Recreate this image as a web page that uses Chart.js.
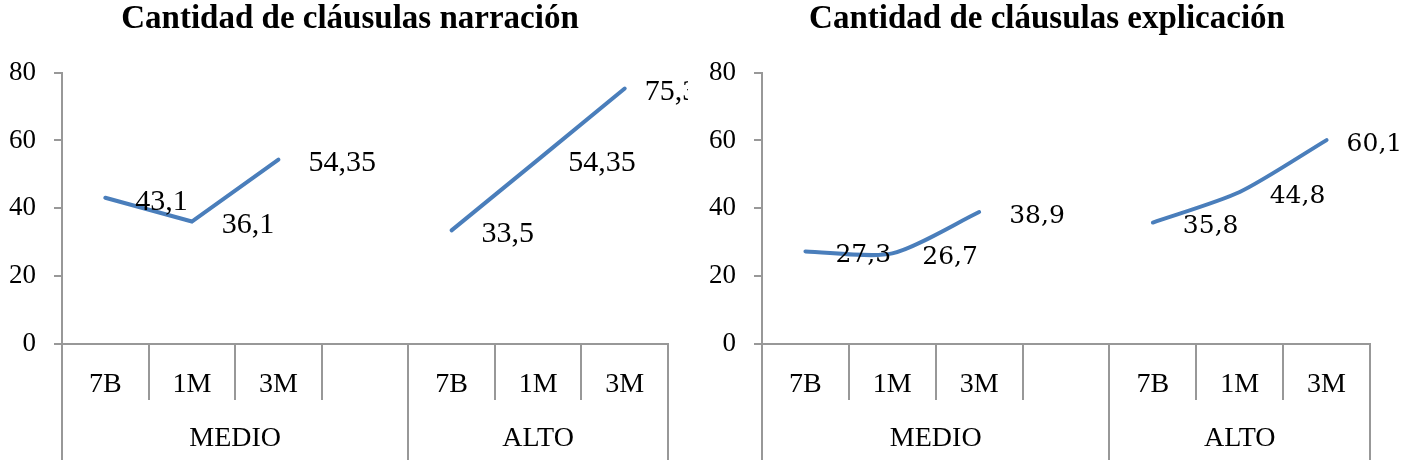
<!DOCTYPE html>
<html>
<head>
<meta charset="utf-8">
<script src="https://cdn.jsdelivr.net/npm/chart.js@4.4.0/dist/chart.umd.min.js"></script>
<style>
  html, body { margin: 0; padding: 0; background: #ffffff; }
  body { width: 1408px; height: 460px; position: relative; overflow: hidden; }
  .box { position: absolute; top: 0; height: 460px; }
  #boxA { left: 0; width: 700px; }
  #boxB { left: 700px; width: 708px; }
</style>
</head>
<body>
<div class="box" id="boxA"><canvas id="chartA" width="700" height="460"></canvas></div>
<div class="box" id="boxB"><canvas id="chartB" width="708" height="460"></canvas></div>
<script>
// ---- data ----
const categories = ['7B', '1M', '3M', '', '7B', '1M', '3M'];
const groups = ['MEDIO', 'ALTO'];
const groupSizes = [4, 3];
const narracion = [43.1, 36.1, 54.35, null, 33.5, 54.35, 75.3];
const explicacion = [27.3, 26.7, 38.9, null, 35.8, 44.8, 60.1];
const titleNarracion = 'Cantidad de cláusulas narración';
const titleExplicacion = 'Cantidad de cláusulas explicación';
const yMin = 0, yMax = 80, yStep = 20;

// ---- styles ----
const AXIS = '#989898';
const LINE = '#4A7EBB';
const SERIF = "'Liberation Serif', 'Times New Roman', serif";

// group boundaries and centres on a 0..n scale
const bounds = [0];
groupSizes.forEach(s => bounds.push(bounds[bounds.length - 1] + s));
const centres = groupSizes.map((s, i) => bounds[i] + s / 2);

const fmt = v => String(v).replace('.', ',');

function labelPlugin(fontSpec, clipBeyond) {
  return {
    id: 'valueLabels',
    afterDatasetsDraw(chart) {
      const ctx = chart.ctx;
      const ds = chart.data.datasets[0];
      const meta = chart.getDatasetMeta(0);
      ctx.save();
      if (clipBeyond !== null) {
        ctx.beginPath();
        ctx.rect(0, 0, chart.chartArea.right + clipBeyond, chart.height);
        ctx.clip();
      }
      ctx.font = fontSpec;
      ctx.fillStyle = '#000';
      ctx.textAlign = 'left';
      ctx.textBaseline = 'middle';
      const last = ds.data.length - 1;
      meta.data.forEach((pt, i) => {
        const v = ds.data[i];
        if (v === null || v === undefined) return;
        const off = i === last ? 20 : 30;
        ctx.fillText(fmt(v), pt.x + off, pt.y + 4);
      });
      ctx.restore();
    }
  };
}

function makeChart(id, title, values, tension, rightPad, rightSpace, labelFont, clipBeyond) {
  const tickFont = { family: SERIF, size: 28 };
  const yFont = { family: SERIF, size: 27 };
  return new Chart(document.getElementById(id), {
    type: 'line',
    data: {
      labels: categories,
      datasets: [{
        data: values,
        borderColor: LINE,
        borderWidth: 4,
        borderCapStyle: 'round',
        pointRadius: 0,
        pointHoverRadius: 0,
        tension: tension,
        spanGaps: false,
        fill: false
      }]
    },
    options: {
      responsive: false,
      animation: false,
      events: [],
      layout: { padding: { left: 0, right: rightPad, top: 0, bottom: 0 } },
      plugins: {
        legend: { display: false },
        tooltip: { enabled: false },
        title: {
          display: true,
          text: title,
          color: '#000',
          font: { family: SERIF, size: 33, weight: 'bold' },
          padding: { top: 0, bottom: 33 }
        }
      },
      scales: {
        x: {
          type: 'category',
          offset: true,
          grid: { offset: true, drawOnChartArea: false, tickLength: 56, color: AXIS, lineWidth: 2 },
          border: { display: true, color: AXIS, width: 2 },
          ticks: { color: '#000', font: tickFont, padding: -32, autoSkip: false, maxRotation: 0 },
          afterFit: s => { s.height = 56; }
        },
        x2: {
          type: 'linear',
          position: 'bottom',
          min: bounds[0],
          max: bounds[bounds.length - 1],
          afterBuildTicks: s => {
            const vals = bounds.concat(centres).sort((a, b) => a - b);
            s.ticks = vals.map(v => ({ value: v }));
          },
          grid: {
            drawOnChartArea: false,
            tickLength: 60,
            lineWidth: 2,
            color: c => (c.tick && bounds.includes(c.tick.value)) ? AXIS : 'rgba(0,0,0,0)'
          },
          border: { display: false },
          ticks: {
            color: '#000',
            font: tickFont,
            padding: -38,
            autoSkip: false,
            maxRotation: 0,
            callback: v => { const k = centres.indexOf(v); return k >= 0 ? groups[k] : ''; }
          },
          afterFit: s => { s.height = 60; }
        },
        y: {
          min: yMin,
          max: yMax,
          ticks: { stepSize: yStep, color: '#000', font: yFont, padding: 18 },
          grid: { drawOnChartArea: false, tickLength: 8, color: AXIS, lineWidth: 2 },
          border: { display: true, color: AXIS, width: 2 },
          afterFit: s => { s.width = 62; }
        },
        ySpace: {
          type: 'linear',
          position: 'right',
          min: 0,
          max: 1,
          grid: { display: false },
          border: { display: false },
          ticks: { display: false },
          afterFit: s => { s.width = rightSpace; }
        }
      }
    },
    plugins: [labelPlugin(labelFont, clipBeyond)]
  });
}

function build() {
  makeChart('chartA', titleNarracion, narracion, 0, 0, 32, "30px " + SERIF, 20);
  makeChart('chartB', titleExplicacion, explicacion, 0.25, 14, 24, "25px 'DejaVu Serif', serif", null);
}
Promise.all([
  document.fonts.load("30px 'Liberation Serif'"),
  document.fonts.load("bold 30px 'Liberation Serif'"),
  document.fonts.load("25px 'DejaVu Serif'")
]).then(build, build);
</script>
</body>
</html>
